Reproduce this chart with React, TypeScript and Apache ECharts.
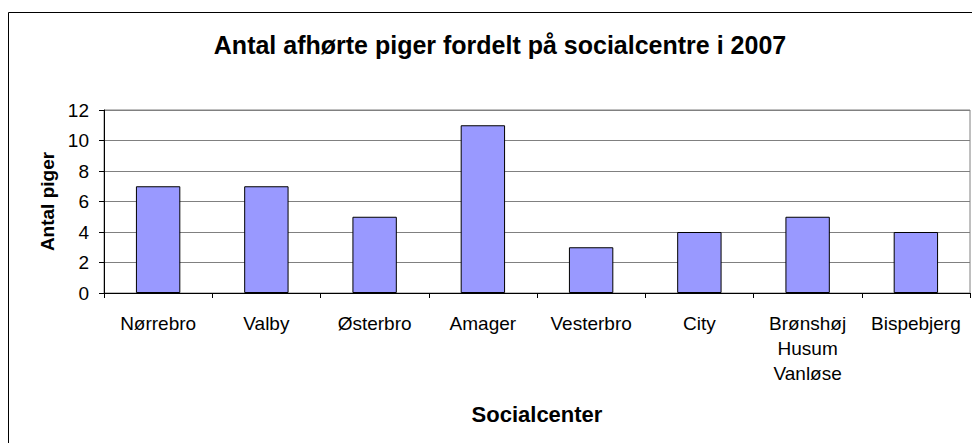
import React, { useEffect, useRef } from "react";
import * as echarts from "echarts";

const title = "Antal afhørte piger fordelt på socialcentre i 2007";
const categories = ["Nørrebro", "Valby", "Østerbro", "Amager", "Vesterbro", "City", "Brønshøj\nHusum\nVanløse", "Bispebjerg"];
const values = [7, 7, 5, 11, 3, 4, 5, 4];
const yAxisName = "Antal piger";
const xAxisName = "Socialcenter";

export default function App() {
  const ref = useRef<HTMLDivElement>(null);
  useEffect(() => {
    if (!ref.current) return;
    const chart = echarts.init(ref.current, null, { renderer: "svg" });
    const font = "Arial, 'Liberation Sans', sans-serif";
    chart.setOption({
      animation: false,
      backgroundColor: "#ffffff",
      title: {
        text: title,
        left: 495,
        top: 27,
        textAlign: "center",
        textStyle: { fontFamily: font, fontWeight: "bold", fontSize: 25, color: "#000" },
      },
      graphic: [
        {
          type: "rect",
          shape: { x: 8.5, y: 12.5, width: 1000, height: 500 },
          style: { fill: "none", stroke: "#000", lineWidth: 1 },
          silent: true,
          z: 100,
        },
      ],
      grid: { left: 104, right: 2, top: 110, bottom: 150, show: true, borderColor: "#808080", borderWidth: 1, backgroundColor: "transparent" },
      xAxis: {
        type: "category",
        data: categories,
        name: xAxisName,
        nameLocation: "middle",
        nameGap: 110,
        nameTextStyle: { fontFamily: font, fontWeight: "bold", fontSize: 22, color: "#000" },
        axisLine: { lineStyle: { color: "#000", width: 1 } },
        axisTick: { show: true, length: 5, alignWithLabel: false, lineStyle: { color: "#000" } },
        axisLabel: { fontFamily: font, fontSize: 19, color: "#000", margin: 18, lineHeight: 25, interval: 0 },
      },
      yAxis: {
        type: "value",
        min: 0,
        max: 12,
        interval: 2,
        name: yAxisName,
        nameLocation: "middle",
        nameGap: 47,
        nameTextStyle: { fontFamily: font, fontWeight: "bold", fontSize: 19, color: "#000" },
        axisLine: { show: true, lineStyle: { color: "#000", width: 1 } },
        axisTick: { show: true, length: 5, lineStyle: { color: "#000" } },
        axisLabel: { fontFamily: font, fontSize: 19, color: "#000", margin: 15 },
        splitLine: { show: true, lineStyle: { color: "#808080", width: 1 } },
      },
      series: [
        {
          type: "bar",
          data: values,
          barWidth: "41%",
          itemStyle: { color: "#9999ff", borderColor: "#000", borderWidth: 1 },
        },
      ],
    });
    return () => chart.dispose();
  }, []);
  return <div ref={ref} style={{ position: "fixed", left: 0, top: 0, width: 972, height: 443 }} />;
}
